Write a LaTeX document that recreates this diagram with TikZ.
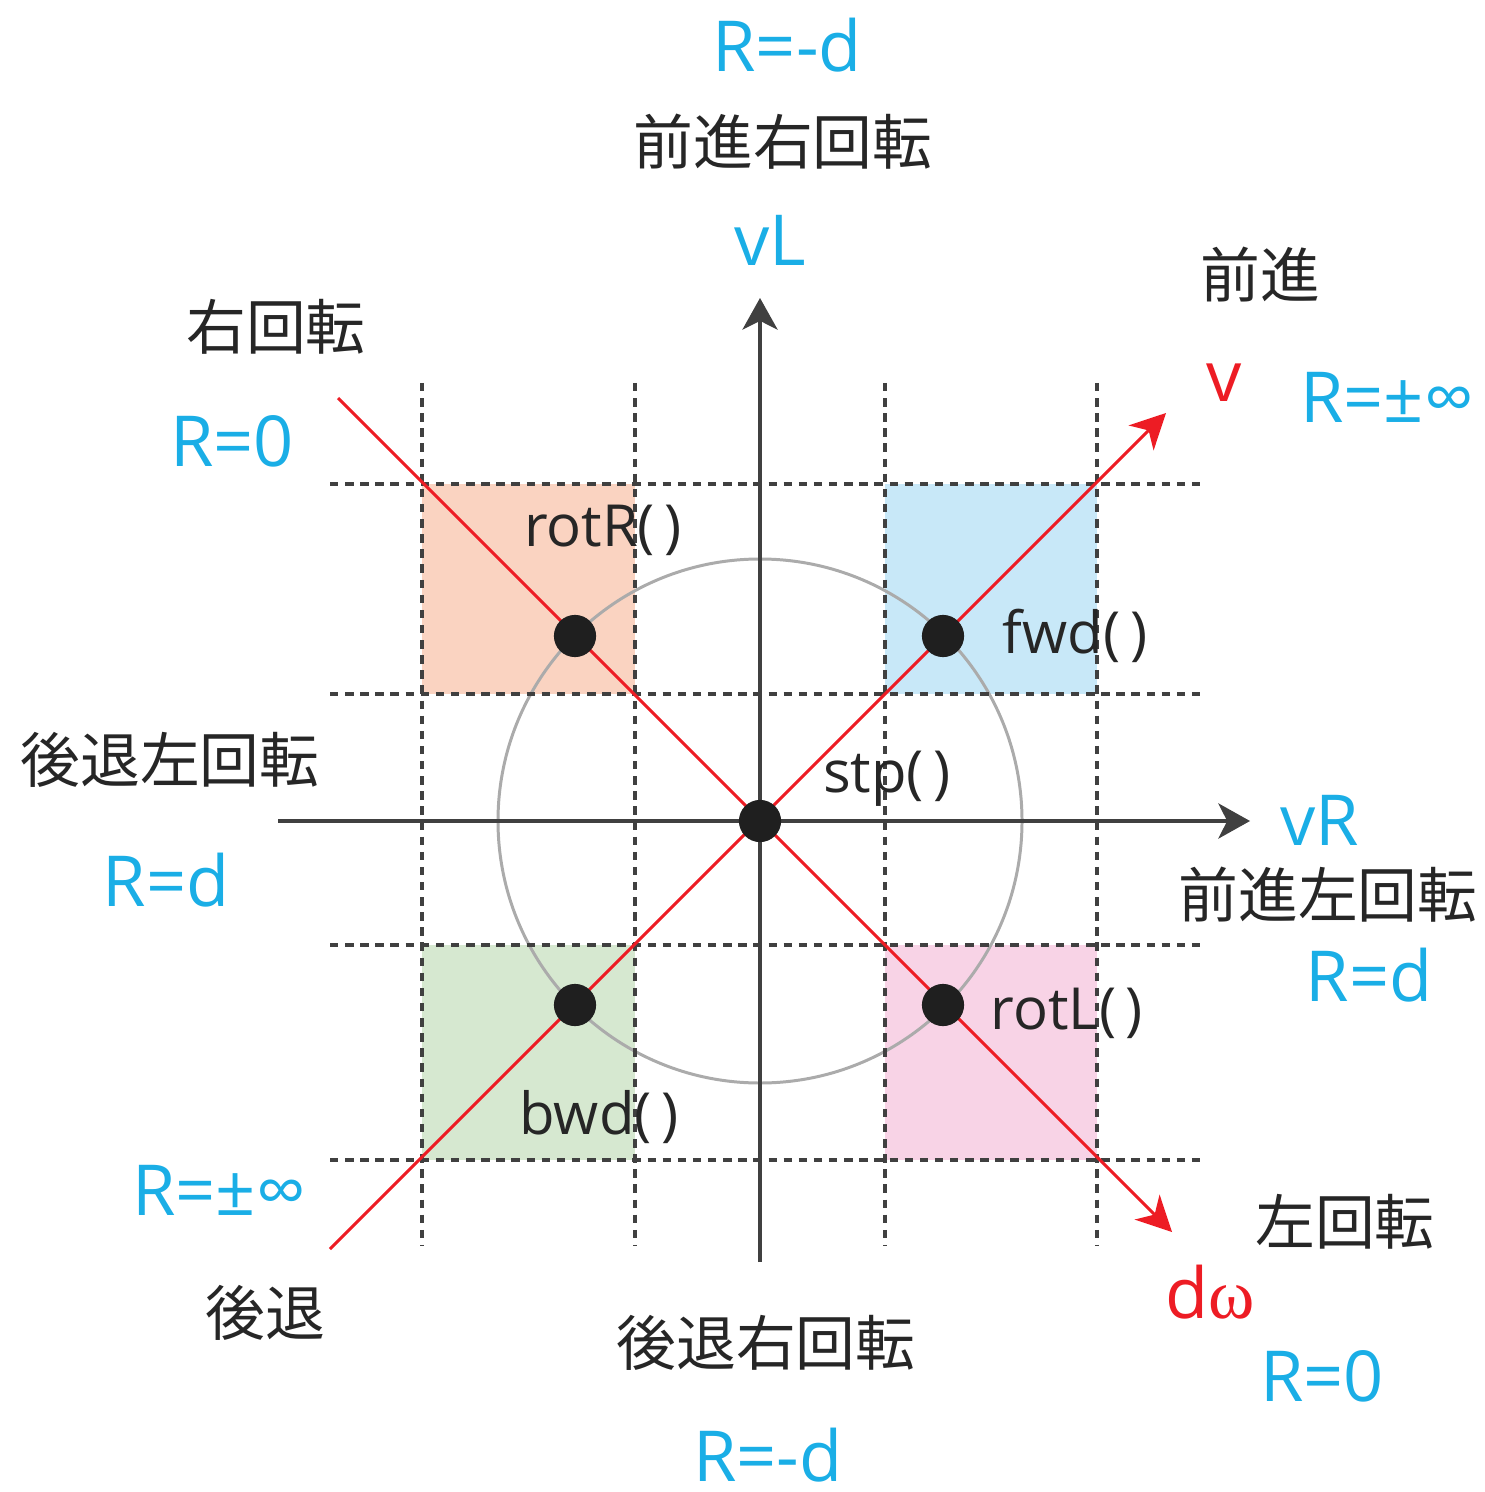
\documentclass[tikz,border=0pt]{standalone}
\usepackage{fontspec}
\setmainfont{Open Sans}
\newfontfamily\jpfont{Noto Sans CJK JP}
\newfontfamily\serifom{Liberation Serif}
\usetikzlibrary{arrows.meta}
\definecolor{cblue}{HTML}{1AAEE6}
\definecolor{cred}{HTML}{ED1C24}
\definecolor{cax}{HTML}{404040}
\definecolor{ccirc}{HTML}{ABABAB}
\definecolor{forange}{HTML}{FAD3C1}
\definecolor{fblue}{HTML}{C8E8F8}
\definecolor{fgreen}{HTML}{D6E8D0}
\definecolor{fpink}{HTML}{F8D3E6}
\begin{document}
\begin{tikzpicture}[x=0.01cm,y=-0.01cm,
  bl/.style={text=cblue,font=\fontsize{20}{22}\selectfont,inner sep=0pt},
  jp/.style={text=black!85,font=\jpfont\fontsize{17}{19}\selectfont,inner sep=0pt},
  fn/.style={text=black!85,font=\fontsize{16.5}{18}\selectfont,inner sep=0pt},
  rd/.style={text=cred,font=\fontsize{20}{22}\selectfont,inner sep=0pt},
  grid/.style={cax,line width=0.9pt,dash pattern=on 2.4pt off 1.9pt},
  axis/.style={cax,line width=0.95pt,-{Stealth[length=9pt,width=10pt,inset=2.5pt]}},
  redarr/.style={cred,line width=0.85pt,-{Stealth[length=10pt,width=10pt,inset=3pt]}},
  dot/.style={circle,fill=black!88,minimum size=12pt,inner sep=0pt}]
\useasboundingbox (0,0) rectangle (1484,1492);
% fills
\fill[forange] (422,484) rectangle (635,694);
\fill[fblue] (885,484) rectangle (1097,694);
\fill[fgreen] (422,945) rectangle (635,1160);
\fill[fpink] (885,945) rectangle (1097,1160);
% circle
\draw[ccirc,line width=0.85pt] (760,821) circle (262);
% grid
\foreach \x in {422,635,885,1097} \draw[grid] (\x,383) -- (\x,1245);
\foreach \y in {484,694,945,1160} \draw[grid] (330,\y) -- (1202,\y);
% coordinates
\coordinate (vtop) at (760,298);
\coordinate (vbot) at (760,1262);
\coordinate (hleft) at (278,821);
\coordinate (hright) at (1250,821);
\coordinate (dA) at (338,398);
\coordinate (dB) at (1172,1232);
\coordinate (eA) at (330,1249);
\coordinate (eB) at (1166,413);
% axes
\draw[axis] (vbot) -- (vtop);
\draw[axis] (hleft) -- (hright);
% red lines
\draw[redarr] (dA) -- (dB);
\draw[redarr] (eA) -- (eB);
% dots
\node[dot] (rotR) at (575,636) {};
\node[dot] (fwd) at (943,636) {};
\node[dot] (bwd) at (575,1005) {};
\node[dot] (rotL) at (943,1005) {};
\node[dot] (stp) at (760,821) {};
% labels
\node[bl] (t1) at (787,45) {R=-d};
\node[jp] (t2) at (783,142) {前進右回転};
\node[bl] (t3) at (770,240) {vL};
\node[jp] (t4) at (1260,275) {前進};
\node[jp] (t5) at (276,327) {右回転};
\node[rd] (t6) at (1224,383) {v};
\node[bl] (t7) at (1387,397) {R=±∞};
\node[bl] (t8) at (232,441) {R=0};
\node[fn] (l1) at (603,530) {rotR(\,)};
\node[fn] (l2) at (1075,636) {fwd(\,)};
\node[jp] (t9) at (170,760) {後退左回転};
\node[fn] (l3) at (887,779) {stp(\,)};
\node[bl] (t10) at (1320,820) {vR};
\node[bl] (t11) at (166,880) {R=d};
\node[jp] (t12) at (1328,895) {前進左回転};
\node[bl] (t13) at (1369,975) {R=d};
\node[fn] (l4) at (1067,1013) {rotL(\,)};
\node[fn] (l5) at (599,1117) {bwd(\,)};
\node[bl] (t14) at (219,1190) {R=±∞};
\node[jp] (t15) at (1345,1222) {左回転};
\node[jp] (t16) at (265,1313) {後退};
\node[rd] (t17) at (1210,1292) {d{\serifom ω}};
\node[jp] (t18) at (766,1343) {後退右回転};
\node[bl] (t19) at (1322,1376) {R=0};
\node[bl] (t20) at (768,1455) {R=-d};
\end{tikzpicture}
\end{document}
